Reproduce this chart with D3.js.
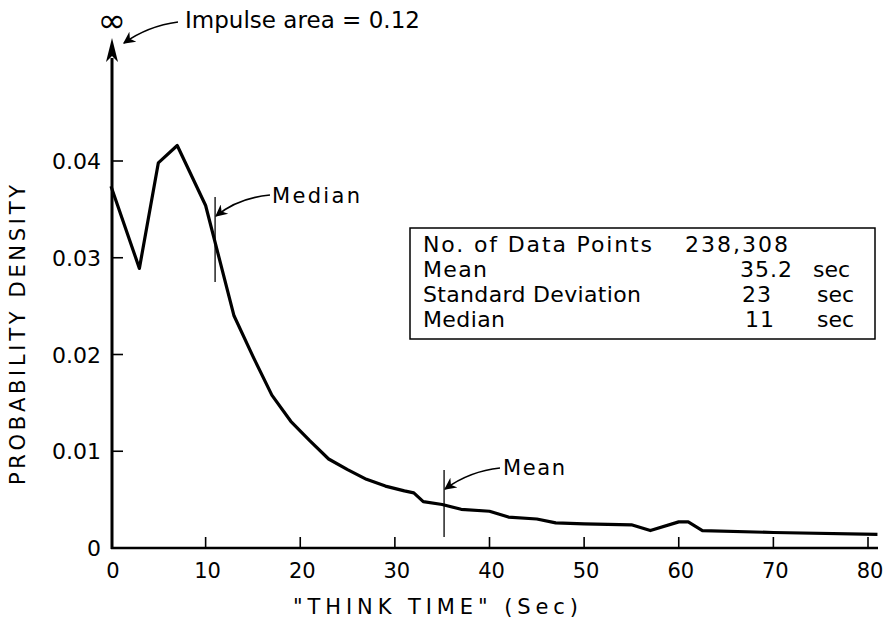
<!DOCTYPE html>
<html><head><meta charset="utf-8">
<script src="https://cdn.jsdelivr.net/npm/d3@7"></script>
<style>
html,body{margin:0;padding:0;background:#fff;}
svg text{font-family:"DejaVu Sans","Liberation Sans",sans-serif;fill:#000;}
</style></head>
<body><svg id="c" width="893" height="626"></svg>
<script>
// ---- data ----
const thinkTime = [0,3,5,7,10,13,15,17,19,21,23,25,27,29,31,32,33,35,37,40,42,45,47,50,55,57,60,61,62.5,70,81];
const density   = [0.0374,0.0289,0.0398,0.0416,0.0354,0.0240,0.0198,0.0158,0.0131,0.0111,0.0092,0.0081,0.0071,0.0064,0.0059,0.0057,0.0048,0.0045,0.0040,0.0038,0.0032,0.0030,0.0026,0.0025,0.0024,0.0018,0.0027,0.0027,0.0018,0.0016,0.0014];
const xTicks = [0,10,20,30,40,50,60,70,80];
const yTicks = [0,0.01,0.02,0.03,0.04];
const yTickLabels = ["0","0.01","0.02","0.03","0.04"];
const statLabels = ["No. of Data Points","Mean","Standard Deviation","Median"];
const statValues = ["238,308","35.2","23","11"];
const statUnits  = ["","sec","sec","sec"];
const meanValue = 35.2, medianValue = 11;
const impulseText = "Impulse area = 0.12";

const svg = d3.select("#c");
const x = d3.scaleLinear().domain([0,80]).range([111,868]);
const y = d3.scaleLinear().domain([0,0.04]).range([548,161]);

const defs = svg.append("defs");
defs.append("marker").attr("id","ah").attr("viewBox","0 0 10 10").attr("refX",9).attr("refY",5)
  .attr("markerWidth",16).attr("markerHeight",12).attr("markerUnits","userSpaceOnUse").attr("orient","auto")
  .append("path").attr("d","M0,0 L10,5 L0,10 L3,5 Z").attr("fill","#000");

const g = svg.append("g");
g.append("line").attr("x1",x(0)).attr("x2",878).attr("y1",y(0)).attr("y2",y(0)).attr("stroke","#000").attr("stroke-width",2.5);
g.append("line").attr("x1",x(0)+1).attr("x2",x(0)+1).attr("y1",y(0)+1).attr("y2",58).attr("stroke","#000").attr("stroke-width",3);
g.append("path").attr("d",`M${x(0)+1},38 L${x(0)-5},62 L${x(0)+1},56 L${x(0)+7},62 Z`).attr("fill","#000");

g.selectAll(".xt").data(xTicks.filter(d=>d>0)).enter().append("line")
  .attr("x1",d=>x(d)).attr("x2",d=>x(d)).attr("y1",y(0)).attr("y2",y(0)-11).attr("stroke","#000").attr("stroke-width",1.6);
g.selectAll(".xl").data(xTicks).enter().append("text")
  .attr("x",d=>x(d)+2).attr("y",578).attr("text-anchor","middle").attr("font-size",21).text(d=>d);
g.selectAll(".yt").data(yTicks.filter(d=>d>0)).enter().append("line")
  .attr("x1",x(0)).attr("x2",x(0)+12).attr("y1",d=>y(d)).attr("y2",d=>y(d)).attr("stroke","#000").attr("stroke-width",1.6);
g.selectAll(".yl").data(yTicks).enter().append("text")
  .attr("x",101).attr("y",d=>y(d)+8).attr("text-anchor","end").attr("font-size",22).text((d,i)=>yTickLabels[i]);

svg.append("text").attr("x",293).attr("y",614).attr("font-size",21)
  .attr("textLength",285).attr("lengthAdjust","spacing").text('"THINK TIME" (Sec)');
svg.append("text").attr("transform","translate(25,335) rotate(-90)").attr("text-anchor","middle").attr("font-size",21)
  .attr("textLength",300).attr("lengthAdjust","spacing").text("PROBABILITY DENSITY");

const line = d3.line().x(d=>x(d[0])).y(d=>y(d[1]));
svg.append("path").datum(thinkTime.map((t,i)=>[t,density[i]])).attr("d",line)
  .attr("fill","none").attr("stroke","#000").attr("stroke-width",3.2).attr("stroke-linejoin","round");

svg.append("text").attr("x",x(0)+1).attr("y",32).attr("text-anchor","middle").attr("font-size",34).text("∞");
svg.append("path").attr("d","M178,22 Q148,26 124,43").attr("fill","none").attr("stroke","#000").attr("stroke-width",1.6).attr("marker-end","url(#ah)");
svg.append("text").attr("x",185).attr("y",28).attr("font-size",23).attr("textLength",235).attr("lengthAdjust","spacing").text(impulseText);

svg.append("line").attr("x1",x(medianValue)).attr("x2",x(medianValue)).attr("y1",197).attr("y2",282).attr("stroke","#000").attr("stroke-width",1.3);
svg.append("path").attr("d",`M270,195 Q238,198 ${x(medianValue)+1},216`).attr("fill","none").attr("stroke","#000").attr("stroke-width",1.6).attr("marker-end","url(#ah)");
svg.append("text").attr("x",272).attr("y",203).attr("font-size",21).attr("textLength",88).attr("lengthAdjust","spacing").text("Median");

svg.append("line").attr("x1",x(meanValue)).attr("x2",x(meanValue)).attr("y1",470).attr("y2",537).attr("stroke","#000").attr("stroke-width",1.3);
svg.append("path").attr("d",`M500,468 Q470,471 ${x(meanValue)+1},489`).attr("fill","none").attr("stroke","#000").attr("stroke-width",1.6).attr("marker-end","url(#ah)");
svg.append("text").attr("x",503).attr("y",475).attr("font-size",21).attr("textLength",62).attr("lengthAdjust","spacing").text("Mean");

// stats box
const rowY = [252,277,302,327];
const labelLen = [229,64,218,82];
const valX = [685,740,742,745];
svg.append("rect").attr("x",410).attr("y",228).attr("width",465).attr("height",111).attr("fill","none").attr("stroke","#000").attr("stroke-width",1.5);
const rows = svg.selectAll(".row").data(statLabels).enter().append("g");
rows.append("text").attr("x",423).attr("y",(d,i)=>rowY[i]).attr("font-size",22)
  .attr("textLength",(d,i)=>labelLen[i]).attr("lengthAdjust","spacing").text(d=>d);
rows.append("text").attr("x",(d,i)=>valX[i]).attr("y",(d,i)=>rowY[i]).attr("font-size",22)
  .attr("letter-spacing",(d,i)=>i===0?2:1).text((d,i)=>statValues[i]);
rows.append("text").attr("x",(d,i)=>i===1?813:817).attr("y",(d,i)=>rowY[i]).attr("font-size",22).text((d,i)=>statUnits[i]);
</script></body></html>
